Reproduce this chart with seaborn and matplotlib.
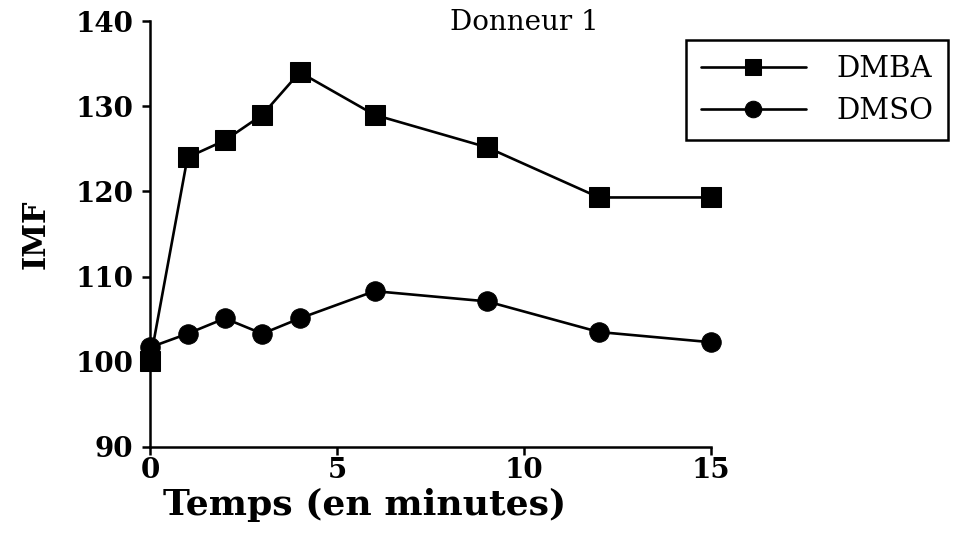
import numpy as np
import pandas as pd
import matplotlib
matplotlib.use('Agg')
import matplotlib.pyplot as plt
import seaborn as sns

minutes = [0, 1, 2, 3, 4, 6, 9, 12, 15]
dmba = [100.1, 124.0, 126.0, 129.0, 134.0, 129.0, 125.2, 119.3, 119.3]
dmso = [101.7, 103.3, 105.1, 103.3, 105.1, 108.3, 107.1, 103.5, 102.3]
x_ticks = [0, 5, 10, 15]
y_ticks = [90, 100, 110, 120, 130, 140]

df = pd.DataFrame({
    'Temps': minutes * 2,
    'IMF': dmba + dmso,
    'Groupe': ['DMBA'] * len(minutes) + ['DMSO'] * len(minutes),
})

sns.set_style('ticks')
plt.rcParams['font.family'] = ['DejaVu Serif']
plt.rcParams['text.color'] = 'black'
plt.rcParams['axes.labelcolor'] = 'black'
plt.rcParams['xtick.color'] = 'black'
plt.rcParams['ytick.color'] = 'black'

fig = plt.figure(figsize=(9.56, 5.57), dpi=100)
ax = fig.add_axes([0.157, 0.1975, 0.587, 0.7645])

sns.lineplot(data=df, x='Temps', y='IMF', hue='Groupe', style='Groupe',
             markers={'DMBA': 's', 'DMSO': 'o'}, dashes=False,
             palette={'DMBA': 'black', 'DMSO': 'black'},
             markersize=14, linewidth=1.9, markeredgecolor='black', ax=ax)
for line in ax.lines:
    line.set_clip_on(False)

ax.set_xlim(0, 15)
ax.set_ylim(90, 140)
ax.set_xticks(x_ticks)
ax.set_yticks(y_ticks)
ax.tick_params(labelsize=20, width=1.8, length=6, color='black', labelcolor='black')
ax.tick_params(axis='x', pad=1)
ax.tick_params(axis='y', pad=6)
for lab in ax.get_xticklabels() + ax.get_yticklabels():
    lab.set_fontweight('bold')
for side in ['left', 'bottom']:
    ax.spines[side].set_linewidth(1.8)
    ax.spines[side].set_color('black')
sns.despine(ax=ax)

ax.set_xlabel('Temps (en minutes)', fontsize=26, fontweight='bold')
ax.xaxis.set_label_coords(0.383, -0.095)
ax.set_ylabel('IMF', fontsize=22, fontweight='bold')
ax.yaxis.set_label_coords(-0.175, 0.5)
ax.text(10, 139.8, 'Donneur 1', fontsize=20, ha='center', va='center')

leg = ax.legend(loc='upper left', bbox_to_anchor=(0.955, 0.955), frameon=True,
                fontsize=21, handlelength=3.6, borderpad=0.5, labelspacing=0.5,
                handletextpad=1.05, fancybox=False, title=None, markerscale=0.85,
                borderaxespad=0)
leg.get_frame().set_edgecolor('black')
leg.get_frame().set_linewidth(1.8)
leg.get_frame().set_alpha(1)

fig.savefig('out.png', dpi=100)
